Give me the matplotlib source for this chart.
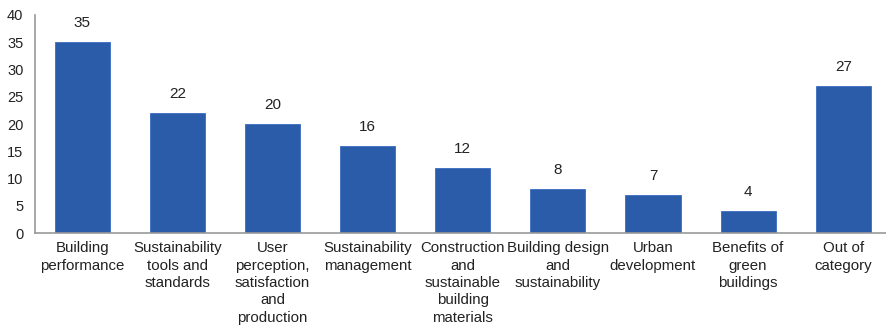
import matplotlib.pyplot as plt

categories = [
    "Building\nperformance",
    "Sustainability\ntools and\nstandards",
    "User\nperception,\nsatisfaction\nand\nproduction",
    "Sustainability\nmanagement",
    "Construction\nand\nsustainable\nbuilding\nmaterials",
    "Building design\nand\nsustainability",
    "Urban\ndevelopment",
    "Benefits of\ngreen\nbuildings",
    "Out of\ncategory",
]
counts = [35, 22, 20, 16, 12, 8, 7, 4, 27]
yticks = [0, 5, 10, 15, 20, 25, 30, 35, 40]

plt.rcParams['font.family'] = ['Liberation Sans', 'DejaVu Sans']

fig = plt.figure(figsize=(8.87, 3.33), dpi=100)
ax = fig.add_axes([0.039, 0.30, 0.961, 0.655])

x = range(len(counts))
bars = ax.bar(x, counts, width=0.58, color='#2a5caa', edgecolor='#3a6cc0', linewidth=0.6)
for xi, v in zip(x, counts):
    ax.text(xi, v + 2.2, str(v), ha='center', va='bottom', fontsize=11, color='#222222')

ax.set_xlim(-0.5, 8.46)
ax.set_ylim(0, 40)
ax.set_yticks(yticks)
ax.set_xticks(list(x))
ax.set_xticklabels(categories, fontsize=10.8, color='#222222', linespacing=1.3)
ax.tick_params(axis='y', labelsize=10.5, colors='#222222', length=0, pad=8)
ax.tick_params(axis='x', length=0, pad=6)

for side in ['top', 'right']:
    ax.spines[side].set_visible(False)
for side in ['left', 'bottom']:
    ax.spines[side].set_color('#999999')
    ax.spines[side].set_linewidth(1.2)

fig.savefig('out.png', dpi=100)
